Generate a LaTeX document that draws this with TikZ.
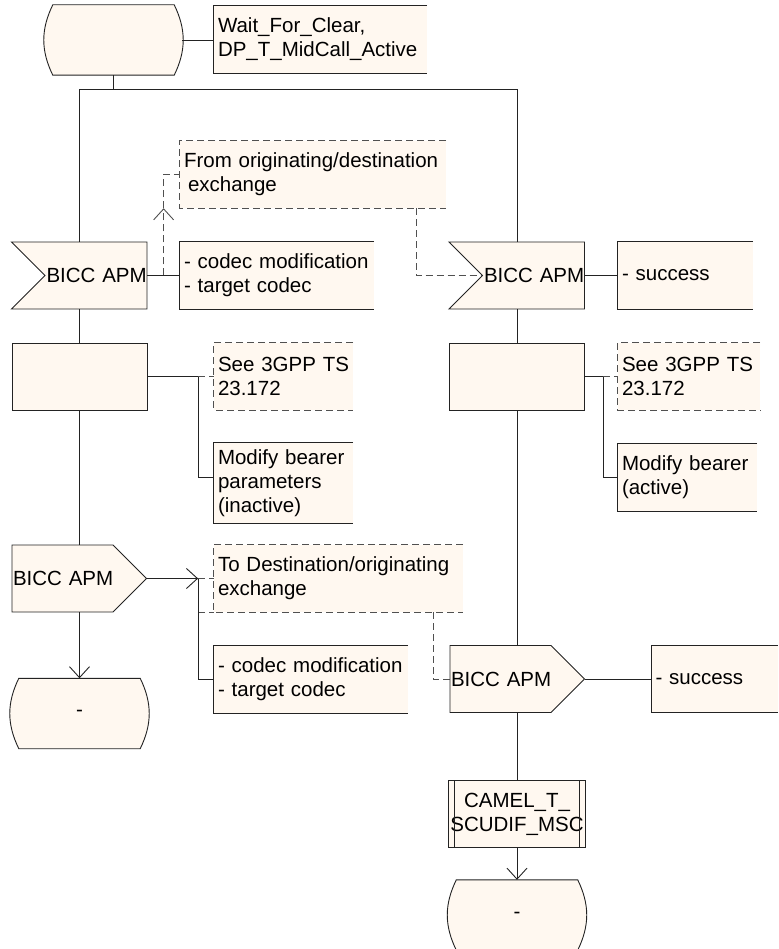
\documentclass[tikz,border=0pt]{standalone}
\usepackage{fontspec}
\setmainfont{Liberation Sans}
\usetikzlibrary{shapes.symbols, arrows.meta, positioning, calc, backgrounds}
\definecolor{paper}{RGB}{255, 248, 240}
\definecolor{ink}{RGB}{35, 35, 35}
\definecolor{note}{RGB}{80, 80, 80}
\tikzset{
    sdl/.style={draw=ink, line width=0.9pt, fill=paper, minimum height=67pt, inner xsep=2pt, font=\fontsize{20.5}{24}\selectfont},
    sdlstate/.style={rectangle, minimum width=137pt, minimum height=70pt, font=\fontsize{20.5}{24}\selectfont},
    sdlin/.style={sdl, signal, signal from=west, signal to=nowhere, text width=99pt, inner xsep=1.5pt, align=center},
    sdlout/.style={sdl, signal, signal to=east, signal from=nowhere, text width=99pt, inner xsep=1pt, align=center},
    task/.style={sdl, rectangle, minimum width=135pt},
    proc/.style={sdl, rectangle, minimum width=135pt, align=center},
    txtbox/.style={rectangle, fill=paper, inner xsep=4pt, align=left, minimum height=67pt, font=\fontsize{20.5}{24}\selectfont},
    cmtbox/.style={txtbox},
    link/.style={draw=ink, line width=0.9pt},
    arr/.style={link, -{Straight Barb[length=11pt, width=20pt]}},
    dasharr/.style={draw=note, line width=0.9pt, dash pattern=on 7pt off 4pt}
}
\begin{document}
\begin{tikzpicture}[x=1pt, y=-1pt]
    \useasboundingbox (0,0) rectangle (778,949);
    % left branch
    \node[sdlstate] (st0) at (113.5,40) {};
    \node[txtbox, text width=205pt] (txt0) at (320.5,39.5) {Wait\_For\_Clear,\\DP\_T\_MidCall\_Active};
    \node[cmtbox, text width=258pt] (cm1) at (313,174.5) {From~originating/destination\\\hspace*{4pt}exchange};
    \node[sdlin] (in1) at (96,275.5) {BICC~APM};
    \node[txtbox, text width=186pt] (txt1) at (277,275.5) {-~codec~modification\\- target codec};
    \node[task] (tk1) at (79.5,376.5) {};
    \node[cmtbox, text width=131pt] (cm2) at (283.5,376.5) {See~3GPP~TS\\23.172};
    \node[txtbox, text width=131pt, minimum height=80pt] (tb1) at (283.5,483) {Modify~bearer\\parameters\\(inactive)};
    \node[sdlout] (out1) at (62.5,578.5) {BICC~APM};
    \node[cmtbox, text width=241pt] (cm3) at (338.5,578.5) {To~Destination/originating\\exchange};
    \node[txtbox, text width=186pt] (tb2) at (311,679.5) {-~codec~modification\\- target codec};
    \node[sdlstate] (end1) at (79.5,713.5) {-};
    % right branch
    \node[sdlin] (in2) at (533.5,275.5) {BICC~APM};
    \node[txtbox, text width=127pt] (txt2) at (685.5,275.5) {- success};
    \node[task] (tk2) at (517,376.5) {};
    \node[cmtbox, text width=134pt] (cm4) at (689,376.5) {See~3GPP~TS\\23.172};
    \node[txtbox, text width=131pt] (tb3) at (687.5,477.5) {Modify~bearer\\(active)};
    \node[sdlout] (out2) at (500.5,679) {BICC~APM};
    \node[txtbox, text width=118pt] (txt3) at (714.5,679) {- success};
    \node[proc] (pc1) at (517,814) {CAMEL\_T\_\\SCUDIF\_MSC};
    \node[sdlstate] (end2) at (517,915) {-};

    % state outlines
    \begin{scope}[on background layer]
        \foreach \n in {st0, end1, end2}
            \draw[link, fill=paper] ([xshift=8pt]\n.north west) -- ([xshift=-8pt]\n.north east)
                to[bend left=26] ([xshift=-8pt]\n.south east) -- ([xshift=8pt]\n.south west)
                to[bend left=26] cycle;
    \end{scope}

    % open text boxes
    \foreach \n in {txt0, txt1, txt2, tb1, tb2, tb3, txt3}
        \draw[link] (\n.north east) -- (\n.north west) -- (\n.south west) -- (\n.south east);
    \foreach \n in {cm1, cm2, cm3, cm4}
        \draw[dasharr] (\n.north east) -- (\n.north west) -- (\n.south west) -- (\n.south east);
    \draw[link] ([xshift=7pt]pc1.north west) -- ([xshift=7pt]pc1.south west);
    \draw[link] ([xshift=-7pt]pc1.north east) -- ([xshift=-7pt]pc1.south east);

    % flow lines
    \draw[link] (st0.east) -- (st0.east -| txt0.west);
    \draw[link] (st0.south) -- ++(0,14) coordinate (split);
    \draw[link] (in1.north -| tk1.north) |- (split) -| (in2.north -| tk2.north);
    \draw[link] (in1.east) -- (txt1.west);
    \draw[link] (in2.east) -- (txt2.west);
    \draw[link] (in1.south -| tk1.north) -- (tk1.north);
    \draw[link] (tk1.south) -- (tk1.south |- out1.north);
    \draw[arr] (out1.south -| end1.north) -- (end1.north);
    \draw[link] (in2.south -| tk2.north) -- (tk2.north);
    \draw[link] (tk2.south) -- (tk2.south |- out2.north);
    \draw[link] (out2.south -| pc1.north) -- (pc1.north);
    \draw[arr] (pc1.south) -- (end2.north);
    \draw[link] (out2.east) -- (txt3.west);

    % task annotations
    \draw[link] (tk1.east) -- ++(51,0) coordinate (j1);
    \draw[link] (j1) |- ([yshift=6pt]tb1.west);
    \draw[dasharr] (j1) -- (cm2.west);
    \draw[link] (tk2.east) -- ++(18,0) coordinate (j2);
    \draw[link] (j2) |- (tb3.west);
    \draw[dasharr] (j2) -- (cm4.west);

    % comments on signals
    \coordinate (j0) at ($(in1.east)!0.5!(txt1.west)$);
    \draw[dasharr, -{Straight Barb[length=11pt, width=20pt]}] (j0) -- (j0 |- cm1.south);
    \draw[dasharr] (j0 |- cm1.south) |- (cm1.west);
    \draw[dasharr] ([xshift=103pt]cm1.south) |- (in2.west);
    \draw[arr] (out1.east) -- ++(51,0) coordinate (j3);
    \draw[dasharr] (j3) -- (cm3.west);
    \draw[dasharr] (j3 |- cm3.south) -- (cm3.south west);
    \draw[link] (j3) |- (tb2.west);
    \draw[dasharr] ([xshift=94.5pt]cm3.south) |- (out2.west);
\end{tikzpicture}
\end{document}
